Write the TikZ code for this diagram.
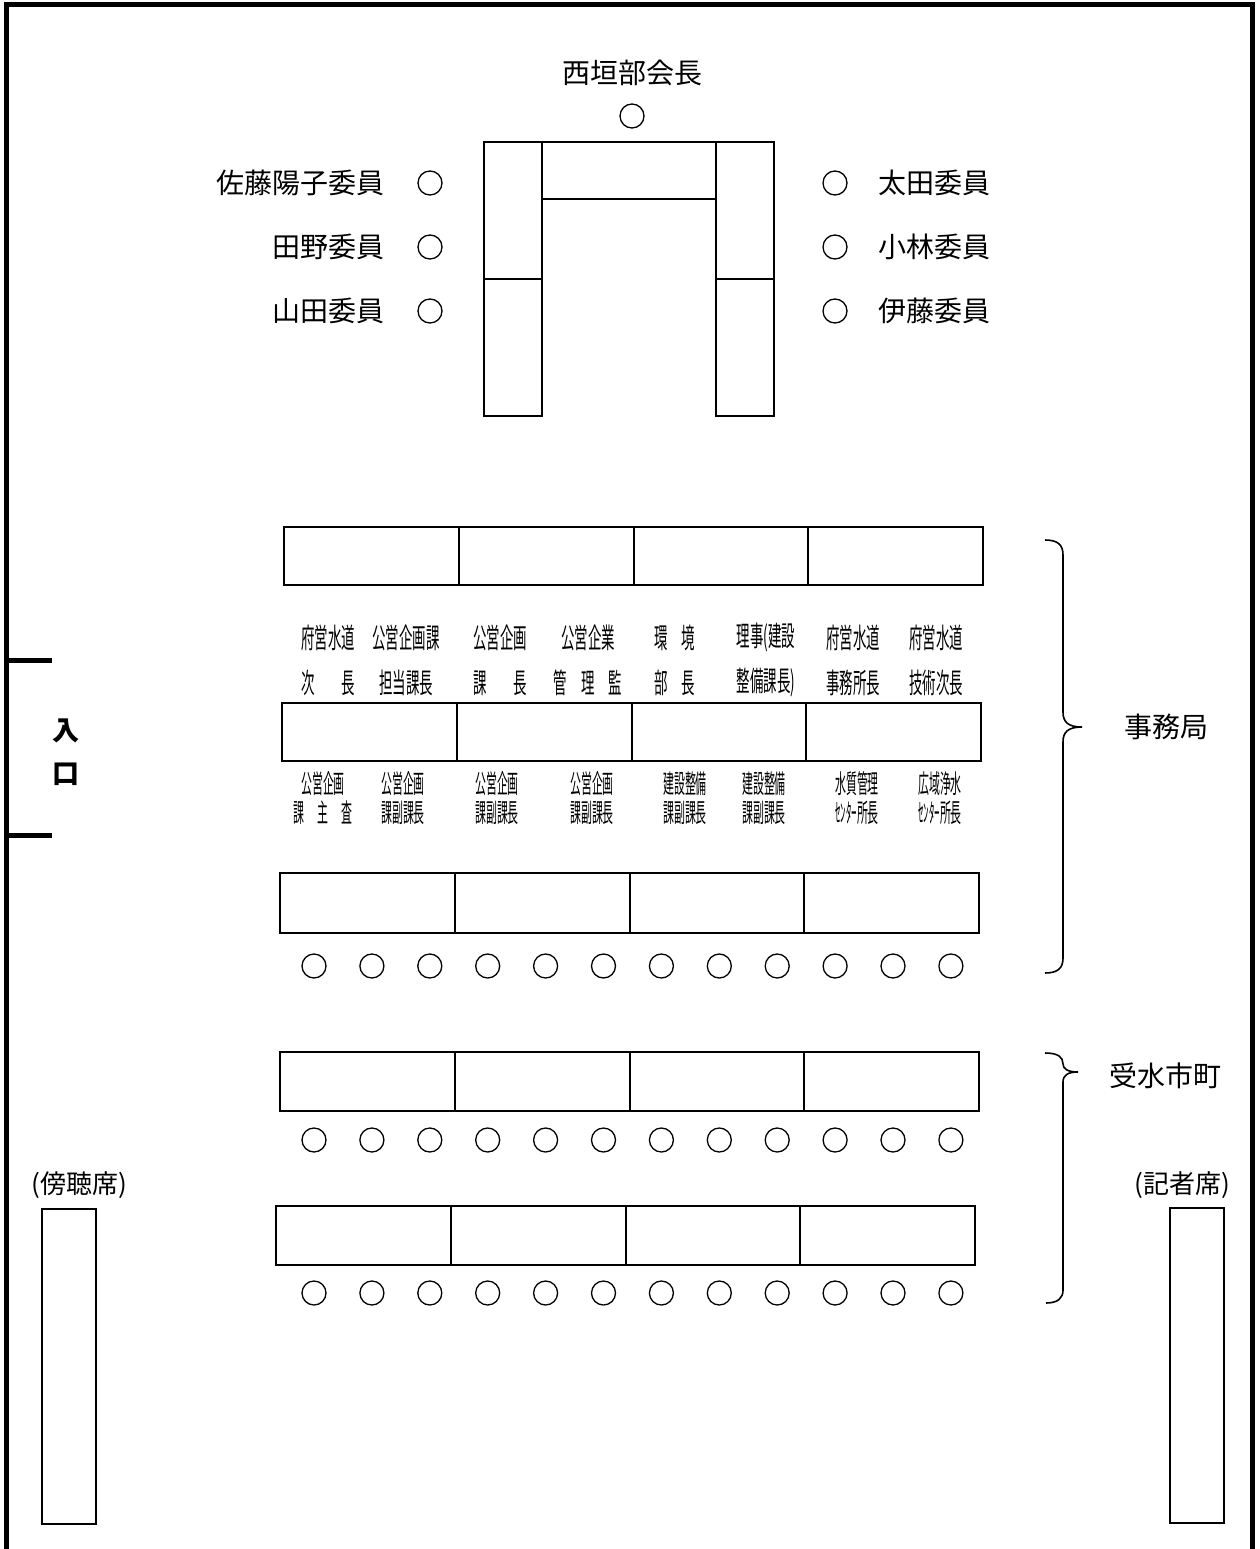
\documentclass[tikz,border=0pt]{standalone}
\usepackage{fontspec}
\setmainfont{Noto Sans CJK JP}
\newfontfamily\narrowa[FakeStretch=0.48]{Noto Sans CJK JP}
\newfontfamily\narrowb[FakeStretch=0.42]{Noto Sans CJK JP}
\tikzset {
    desk/.style = {draw, line width = 1.8pt},
    seat/.style = {circle, draw, line width = 1.3pt, minimum size = 24pt, inner sep = 0pt},
    member/.style = {font = \fontsize{28}{30}\selectfont, inner sep = 0pt},
    rolea/.style = {font = \narrowa\fontsize{28}{45}\selectfont, align = center, inner sep = 0pt},
    roleb/.style = {font = \narrowb\fontsize{26}{29}\selectfont, align = center, inner sep = 0pt},
    wall/.style = {line width = 5pt},
    brace line/.style = {line width = 1.6pt}
}
\begin{document}
\begin{tikzpicture}[x = 1pt, y = -1pt]
    \useasboundingbox (0, 0) rectangle (1259, 1549);
    % room
    \draw [wall] (6, 1549) -- (6, 5) -- (1252, 5) -- (1252, 1549);
    \draw [wall] (6, 660) -- (52, 660);
    \draw [wall] (6, 835) -- (52, 835);
    \node (entry1) [member, font = \bfseries\fontsize{27}{30}\selectfont] at (66, 731) {入};
    \node (entry2) [member, font = \bfseries\fontsize{27}{30}\selectfont] at (66, 774) {口};
    % committee
    \node (chair) [member] at (632, 73) {西垣部会長};
    \node (chairseat) [seat] at (632, 116) {};
    \draw [desk] (484, 142) rectangle (542, 416);
    \draw [desk] (484, 279) -- (542, 279);
    \draw [desk] (542, 142) rectangle (716, 199);
    \draw [desk] (716, 142) rectangle (774, 416);
    \draw [desk] (716, 279) -- (774, 279);
    \node (m1) [member, anchor = east] at (385, 183) {佐藤陽子委員};
    \node (m2) [member, anchor = east] at (385, 247) {田野委員};
    \node (m3) [member, anchor = east] at (385, 311) {山田委員};
    \node (m4) [member, anchor = west] at (878, 183) {太田委員};
    \node (m5) [member, anchor = west] at (878, 247) {小林委員};
    \node (m6) [member, anchor = west] at (878, 311) {伊藤委員};
    \foreach \y [count = \k] in {183, 247, 311} {
        \node (ml\k) [seat] at (430, \y) {};
        \node (mr\k) [seat] at (835, \y) {};
    }
    % desks
    \foreach \ya/\yb/\xa in {527/585/284, 703/761/282, 873/933/280, 1052/1111/280, 1206/1265/276} {
        \draw [desk] (\xa, \ya) rectangle (\xa + 699, \yb);
        \draw [desk] (\xa + 175, \ya) -- (\xa + 175, \yb);
        \draw [desk] (\xa + 350, \ya) -- (\xa + 350, \yb);
        \draw [desk] (\xa + 524, \ya) -- (\xa + 524, \yb);
    }
    \foreach \y in {966, 1140, 1293}
        \foreach \i in {0, ..., 11}
            \node (s\y-\i) [seat] at (314 + 57.9 * \i, \y) {};
    % staff
    \node (a1) [rolea] at (328, 660) {府営水道\\次　　長};
    \node (a2) [rolea] at (406, 660) {公営企画課\\担当課長};
    \node (a3) [rolea] at (500, 660) {公営企画\\課　　長};
    \node (a4) [rolea] at (588, 660) {公営企業\\管\enspace 理\enspace 監};
    \node (a5) [rolea] at (675, 660) {環　境\\部　長};
    \node (a6) [rolea] at (766, 660) {理事(建設\\整備課長)};
    \node (a7) [rolea] at (853, 660) {府営水道\\事務所長};
    \node (a8) [rolea] at (936, 660) {府営水道\\技術次長};
    \node (b1) [roleb] at (323, 798) {公営企画\\課\enspace 主\enspace 査};
    \node (b2) [roleb] at (403, 798) {公営企画\\課副課長};
    \node (b3) [roleb] at (497, 798) {公営企画\\課副課長};
    \node (b4) [roleb] at (592, 798) {公営企画\\課副課長};
    \node (b5) [roleb] at (685, 798) {建設整備\\課副課長};
    \node (b6) [roleb] at (764, 798) {建設整備\\課副課長};
    \node (b7) [roleb] at (857, 798) {水質管理\\ｾﾝﾀｰ所長};
    \node (b8) [roleb] at (940, 798) {広域浄水\\ｾﾝﾀｰ所長};
    % groups
    \draw [brace line] (1045, 540) .. controls (1058, 540) and (1063, 545) .. (1063, 555)
        -- (1063, 712) .. controls (1063, 722) and (1068, 727) .. (1082, 727)
        .. controls (1068, 727) and (1063, 732) .. (1063, 742)
        -- (1063, 958) .. controls (1063, 968) and (1058, 973) .. (1045, 973);
    \node (office) [member] at (1166, 727) {事務局};
    \draw [brace line] (1045, 1053) .. controls (1058, 1053) and (1063, 1057) .. (1063, 1064)
        .. controls (1063, 1069) and (1068, 1072) .. (1078, 1072)
        .. controls (1068, 1072) and (1063, 1075) .. (1063, 1082)
        -- (1063, 1290) .. controls (1063, 1298) and (1058, 1303) .. (1046, 1303);
    \node (towns) [member] at (1165, 1076) {受水市町};
    % side seats
    \node (gallery) [member, font = \fontsize{26}{30}\selectfont] at (79, 1185) {(傍聴席)};
    \draw [desk] (42, 1209) rectangle (96, 1524);
    \node (press) [member, font = \fontsize{26}{30}\selectfont] at (1182, 1185) {(記者席)};
    \draw [desk] (1170, 1208) rectangle (1224, 1523);
\end{tikzpicture}
\end{document}
